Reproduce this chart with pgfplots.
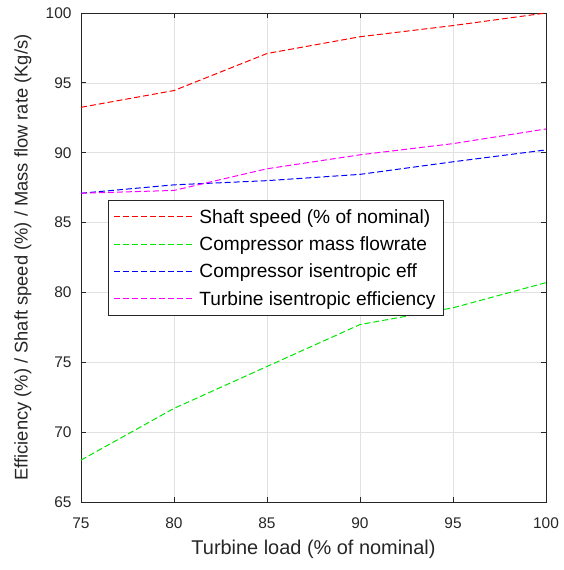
\documentclass[border=0pt]{standalone}
\usepackage{pgfplots}
\pgfplotsset{compat=1.18}
\usepackage{fontspec}
\setmainfont{Liberation Sans}
\definecolor{axgray}{RGB}{38,38,38}
\definecolor{gridgray}{RGB}{225,225,225}
\definecolor{mred}{RGB}{255,0,0}
\definecolor{mgreen}{RGB}{0,230,0}
\definecolor{mblue}{RGB}{0,0,255}
\definecolor{mmag}{RGB}{255,0,255}
\begin{document}
\begin{tikzpicture}
\begin{axis}[
  name=ax,
  scale only axis,
  width=465bp, height=489bp,
  xmin=75, xmax=100, ymin=65, ymax=100,
  xtick={75,80,...,100}, ytick={65,70,...,100},
  grid=major,
  major grid style={gridgray, line width=0.7pt},
  axis line style={axgray, line width=0.8pt},
  tick style={axgray, line width=0.8pt},
  tick align=inside,
  major tick length=5bp,
  xtick pos=both, ytick pos=both,
  ticklabel style={font=\fontsize{15.5}{18}\selectfont, text=axgray},
  xticklabel style={yshift=-12bp},
  yticklabel style={xshift=-6bp},
  /pgf/number format/assume math mode=true,
  xlabel={Turbine load (\% of nominal)},
  ylabel={Efficiency (\%) / Shaft speed (\%) / Mass flow rate (Kg/s)},
  xlabel style={font=\fontsize{20}{22}\selectfont, text=axgray,
    at={(axis description cs:0.5,-0.097)}, anchor=center},
  ylabel style={font=\fontsize{18.4}{20}\selectfont, text=axgray,
    at={(axis description cs:-0.125,0.5)}, anchor=center},
  legend style={at={(0.058,0.6176)}, anchor=north west, draw=axgray, line width=0.8pt,
    font=\fontsize{19.2}{21}\selectfont, inner xsep=5bp, inner ysep=6bp,
    row sep=6bp, nodes={inner sep=3bp}},
  legend cell align=left,
  legend image code/.code={\draw[#1, line width=1.2pt] (0bp,0.3bp) -- (79bp,0.3bp); \path (82bp,0bp);},
  every axis plot/.append style={line width=1.0pt, dash pattern=on 6bp off 3bp},
]
\addplot[draw=mred] coordinates {(75,93.25) (80,94.45) (85,97.1) (90,98.3) (95,99.1) (100,100)};
\addlegendentry{Shaft speed (\% of nominal)}
\addplot[draw=mgreen] coordinates {(75,68.0) (80,71.7) (85,74.7) (90,77.7) (95,78.9) (100,80.7)};
\addlegendentry{Compressor mass flowrate}
\addplot[draw=mblue] coordinates {(75,87.1) (80,87.7) (85,88.0) (90,88.45) (95,89.35) (100,90.2)};
\addlegendentry{Compressor isentropic eff}
\addplot[draw=mmag] coordinates {(75,87.1) (80,87.3) (85,88.85) (90,89.85) (95,90.65) (100,91.7)};
\addlegendentry{Turbine isentropic efficiency}
\end{axis}
\pgfresetboundingbox
\path[use as bounding box] ([xshift=-81bp,yshift=-68bp]ax.south west) rectangle ([xshift=18bp,yshift=13bp]ax.north east);
\end{tikzpicture}
\end{document}
